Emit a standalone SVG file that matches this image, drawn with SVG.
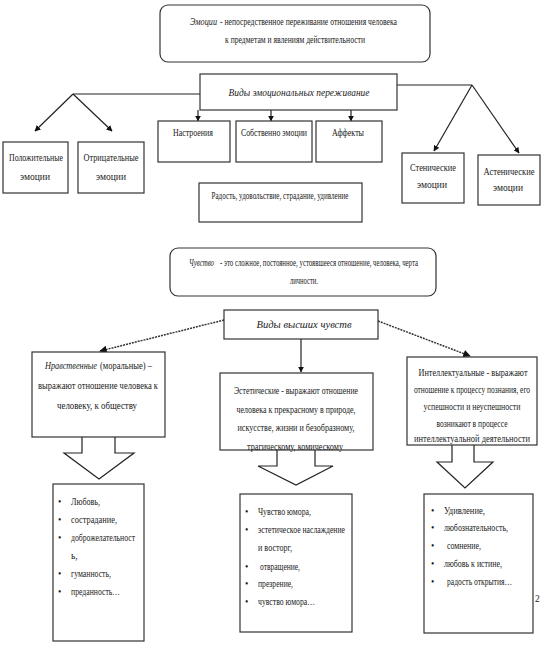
<svg xmlns="http://www.w3.org/2000/svg" width="544" height="651" viewBox="0 0 544 651">
<style>
.b{fill:#fff;stroke:#333;stroke-width:1.2}
.t{font-family:"Liberation Serif",serif;font-size:9.5px;fill:#1a1a1a;text-anchor:middle}
.s{font-family:"Liberation Serif",serif;font-size:9.5px;fill:#1a1a1a}
.l{font-family:"Liberation Serif",serif;font-size:9.5px;fill:#1a1a1a}
.m{font-family:"Liberation Serif",serif;font-size:11px;fill:#1a1a1a;text-anchor:middle}
.i{font-style:italic}
.c{fill:none;stroke:#222;stroke-width:1.2}
.d{fill:none;stroke:#333;stroke-width:1.5;stroke-dasharray:2 1}
</style>
<defs>
<marker id="a" viewBox="0 0 10 10" refX="9" refY="5" markerWidth="5" markerHeight="5" orient="auto"><path d="M0,0L10,5L0,10z" fill="#111"/></marker>
</defs>
<rect width="544" height="651" fill="#fff"/>
<g id="connectors">
<polyline class="c" points="200,94 73,94"/>
<line class="c" x1="73" y1="94" x2="35" y2="131" marker-end="url(#a)"/>
<line class="c" x1="73" y1="94" x2="112" y2="131" marker-end="url(#a)"/>
<polyline class="c" points="397,85 472,85"/>
<line class="c" x1="472" y1="85" x2="434" y2="151" marker-end="url(#a)"/>
<line class="c" x1="472" y1="85" x2="519" y2="153" marker-end="url(#a)"/>
<line class="c" x1="198" y1="110" x2="198" y2="121" marker-end="url(#a)"/>
<line class="c" x1="271" y1="110" x2="271" y2="121" marker-end="url(#a)"/>
<line class="c" x1="351" y1="110" x2="351" y2="121" marker-end="url(#a)"/>
<line class="d" x1="224" y1="320" x2="100" y2="351" marker-end="url(#a)"/>
<line class="d" x1="378" y1="321" x2="470" y2="356" marker-end="url(#a)"/>
<line class="c" x1="301" y1="339" x2="301" y2="372" marker-end="url(#a)"/>
<polyline class="c" points="82,437 82,453 64,453 99,479 134,453 115,453 115,437"/>
<polyline class="c" points="277,450 277,466 258,466 296,485 333,466 315,466 315,450"/>
<polyline class="c" points="452,445 452,462 437,462 465,488 493,462 474,462 474,445"/>
</g>
<g id="emotion-def">
<rect class="b" x="160" y="5" width="270" height="57" rx="8"/>
<text class="s i" x="190" y="25" textLength="27" lengthAdjust="spacingAndGlyphs">Эмоции</text>
<text class="s" x="220" y="25" textLength="177" lengthAdjust="spacingAndGlyphs">- непосредственное переживание отношения человека</text>
<text class="t" x="295" y="43" textLength="140" lengthAdjust="spacingAndGlyphs">к предметам и явлениям действительности</text>
</g>
<g id="vidy-emo">
<rect class="b" x="200" y="74" width="197" height="36"/>
<text class="m i" x="299" y="96" textLength="141" lengthAdjust="spacingAndGlyphs">Виды эмоциональных переживание</text>
</g>
<g id="polozh">
<rect class="b" x="3" y="142" width="65" height="51"/>
<text class="t" x="36" y="161" textLength="54" lengthAdjust="spacingAndGlyphs">Положительные</text>
<text class="t" x="35" y="180">эмоции</text>
</g>
<g id="otric">
<rect class="b" x="78" y="142" width="66" height="51"/>
<text class="t" x="111" y="161" textLength="55" lengthAdjust="spacingAndGlyphs">Отрицательные</text>
<text class="t" x="111" y="180">эмоции</text>
</g>
<g id="nastr">
<rect class="b" x="158" y="121" width="72" height="41"/>
<text class="t" x="193" y="136" textLength="40" lengthAdjust="spacingAndGlyphs">Настроения</text>
</g>
<g id="sobst">
<rect class="b" x="236" y="121" width="76" height="41"/>
<text class="t" x="274" y="136" textLength="66" lengthAdjust="spacingAndGlyphs">Собственно эмоции</text>
</g>
<g id="affekt">
<rect class="b" x="316" y="121" width="66" height="41"/>
<text class="t" x="348" y="136" textLength="32" lengthAdjust="spacingAndGlyphs">Аффекты</text>
</g>
<g id="stenich">
<rect class="b" x="402" y="153" width="62" height="50"/>
<text class="t" x="433" y="171" textLength="46" lengthAdjust="spacingAndGlyphs">Стенические</text>
<text class="t" x="432" y="188">эмоции</text>
</g>
<g id="astenich">
<rect class="b" x="478" y="155" width="62" height="50"/>
<text class="t" x="509" y="175" textLength="51" lengthAdjust="spacingAndGlyphs">Астенические</text>
<text class="t" x="508" y="191">эмоции</text>
</g>
<g id="radost">
<rect class="b" x="199" y="183" width="163" height="39"/>
<text class="t" x="280" y="199" textLength="137" lengthAdjust="spacingAndGlyphs">Радость, удовольствие, страдание, удивление</text>
</g>
<g id="chuvstvo-def">
<rect class="b" x="170" y="248" width="266" height="48" rx="8"/>
<text class="s i" x="189" y="266" font-size="9" textLength="25" lengthAdjust="spacingAndGlyphs">Чувство</text>
<text class="s" x="220" y="266" textLength="198" lengthAdjust="spacingAndGlyphs">-  это сложное, постоянное, устоявшееся отношение, человека, черта</text>
<text class="t" x="304" y="284" textLength="28" lengthAdjust="spacingAndGlyphs">личности.</text>
</g>
<g id="vidy-chuv">
<rect class="b" x="224" y="310" width="154" height="29"/>
<text class="m i" x="304" y="328" textLength="95" lengthAdjust="spacingAndGlyphs">Виды высших чувств</text>
</g>
<g id="nravstv">
<rect class="b" x="32" y="352" width="133" height="85"/>
<text class="s i" x="45" y="369" font-size="11.5" textLength="52" lengthAdjust="spacingAndGlyphs">Нравственные</text>
<text class="s" x="100" y="369" font-size="11.5" textLength="52" lengthAdjust="spacingAndGlyphs">(моральные) –</text>
<text class="m" x="98" y="389" font-size="11.5" textLength="120" lengthAdjust="spacingAndGlyphs">выражают отношение человека к</text>
<text class="m" x="97" y="409" font-size="11.5" textLength="80" lengthAdjust="spacingAndGlyphs">человеку, к обществу</text>
</g>
<g id="estet">
<rect class="b" x="220" y="373" width="153" height="77"/>
<text class="t" x="296" y="394" font-size="10" textLength="124" lengthAdjust="spacingAndGlyphs">Эстетические - выражают отношение</text>
<text class="t" x="296" y="413" font-size="10" textLength="119" lengthAdjust="spacingAndGlyphs">человека к прекрасному в природе,</text>
<text class="t" x="296" y="431" font-size="10" textLength="117" lengthAdjust="spacingAndGlyphs">искусстве, жизни и безобразному,</text>
<text class="t" x="295" y="450" font-size="10" textLength="96" lengthAdjust="spacingAndGlyphs">трагическому, комическому</text>
</g>
<g id="intel">
<rect class="b" x="407" y="357" width="130" height="88"/>
<text class="t" x="473" y="376" font-size="10" textLength="109" lengthAdjust="spacingAndGlyphs">Интеллектуальные - выражают</text>
<text class="t" x="472" y="393" font-size="9" textLength="116" lengthAdjust="spacingAndGlyphs">отношение к процессу познания, его</text>
<text class="t" x="472" y="410" font-size="10" textLength="97" lengthAdjust="spacingAndGlyphs">успешности и неуспешности</text>
<text class="t" x="472" y="427" font-size="10" textLength="71" lengthAdjust="spacingAndGlyphs">возникают в процессе</text>
<text class="t" x="472" y="442" font-size="10" textLength="116" lengthAdjust="spacingAndGlyphs">интеллектуальной деятельности</text>
</g>
<g id="list1">
<rect class="b" x="53" y="484" width="91" height="157"/>
<g class="l">
<text x="58" y="505">•</text><text x="71" y="505" textLength="29" lengthAdjust="spacingAndGlyphs">Любовь,</text>
<text x="58" y="523">•</text><text x="71" y="523" textLength="46" lengthAdjust="spacingAndGlyphs">сострадание,</text>
<text x="58" y="541">•</text><text x="71" y="541" textLength="64" lengthAdjust="spacingAndGlyphs">доброжелательност</text>
<text x="71" y="559">ь,</text>
<text x="58" y="577">•</text><text x="71" y="577" textLength="40" lengthAdjust="spacingAndGlyphs">гуманность,</text>
<text x="58" y="595">•</text><text x="71" y="595" textLength="49" lengthAdjust="spacingAndGlyphs">преданность…</text>
</g>
</g>
<g id="list2">
<rect class="b" x="240" y="494" width="112" height="138"/>
<g class="l">
<text x="245" y="515">•</text><text x="258" y="515" textLength="53" lengthAdjust="spacingAndGlyphs">Чувство юмора,</text>
<text x="245" y="533">•</text><text x="258" y="533" textLength="87" lengthAdjust="spacingAndGlyphs">эстетическое наслаждение</text>
<text x="258" y="551" textLength="34" lengthAdjust="spacingAndGlyphs">и восторг,</text>
<text x="245" y="570">•</text><text x="260" y="570" textLength="40" lengthAdjust="spacingAndGlyphs">отвращение,</text>
<text x="245" y="587">•</text><text x="258" y="587" textLength="35" lengthAdjust="spacingAndGlyphs">презрение,</text>
<text x="245" y="605">•</text><text x="258" y="605" textLength="57" lengthAdjust="spacingAndGlyphs">чувство юмора…</text>
</g>
</g>
<g id="list3">
<rect class="b" x="424" y="494" width="109" height="139"/>
<g class="l">
<text x="431" y="514">•</text><text x="444" y="514" textLength="41" lengthAdjust="spacingAndGlyphs">Удивление,</text>
<text x="431" y="531">•</text><text x="444" y="531" textLength="64" lengthAdjust="spacingAndGlyphs">любознательность,</text>
<text x="431" y="549">•</text><text x="447" y="549" textLength="34" lengthAdjust="spacingAndGlyphs">сомнение,</text>
<text x="431" y="567">•</text><text x="444" y="567" textLength="58" lengthAdjust="spacingAndGlyphs">любовь к истине,</text>
<text x="431" y="585">•</text><text x="447" y="585" textLength="65" lengthAdjust="spacingAndGlyphs">радость открытия…</text>
</g>
</g>
<text class="l" x="535" y="602" font-size="11">2</text>
</svg>
